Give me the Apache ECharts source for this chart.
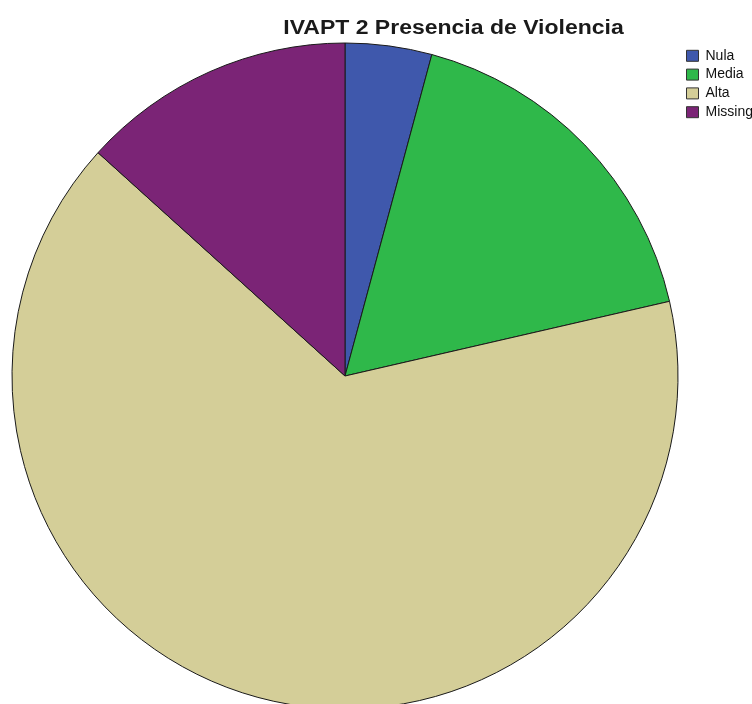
<!DOCTYPE html>
<html>
<head>
<meta charset="utf-8">
<script src="https://cdn.jsdelivr.net/npm/echarts@6/dist/echarts.min.js"></script>
<style>
  html, body { margin: 0; padding: 0; background: #ffffff; }
  #chart { width: 752px; height: 704px; }
</style>
</head>
<body>
<div id="chart"></div>
<script>
// Categories and their shares (percent of cases)
const categories = ['Nula', 'Media', 'Alta', 'Missing'];
const shares = [4.2, 17.2, 65.3, 13.3];
const colors = ['#3f58ac', '#2fb84a', '#d4ce98', '#7b2476'];
const titleText = 'IVAPT 2 Presencia de Violencia';

const chart = echarts.init(document.getElementById('chart'), null, { renderer: 'canvas' });

chart.setOption({
  backgroundColor: '#ffffff',
  animation: false,
  // Title drawn as a graphic text so it can be widened slightly
  graphic: [{
    type: 'text',
    x: 453.5,
    y: 28.5,
    scaleX: 1.15,
    style: {
      text: titleText,
      x: 0,
      y: 0,
      align: 'center',
      verticalAlign: 'middle',
      font: 'bold 20px "Liberation Sans", Arial, sans-serif',
      fill: '#1a1a1a'
    }
  }],
  legend: {
    orient: 'vertical',
    left: 681,
    top: 43.8,
    itemWidth: 12,
    itemHeight: 11,
    itemGap: 4.8,
    icon: 'rect',
    data: categories,
    textStyle: {
      fontFamily: 'Liberation Sans, Arial, sans-serif',
      fontSize: 14,
      lineHeight: 14,
      color: '#111',
      padding: [0, 0, 0, 2]
    },
    itemStyle: { borderColor: '#333', borderWidth: 1 }
  },
  series: [{
    type: 'pie',
    center: [345, 376],
    radius: 333,
    startAngle: 90,
    clockwise: true,
    label: { show: false },
    labelLine: { show: false },
    emphasis: { disabled: true },
    itemStyle: { borderColor: '#1a1a1a', borderWidth: 1 },
    data: categories.map((name, i) => ({
      name: name,
      value: shares[i],
      itemStyle: { color: colors[i] }
    }))
  }]
});
</script>
</body>
</html>
